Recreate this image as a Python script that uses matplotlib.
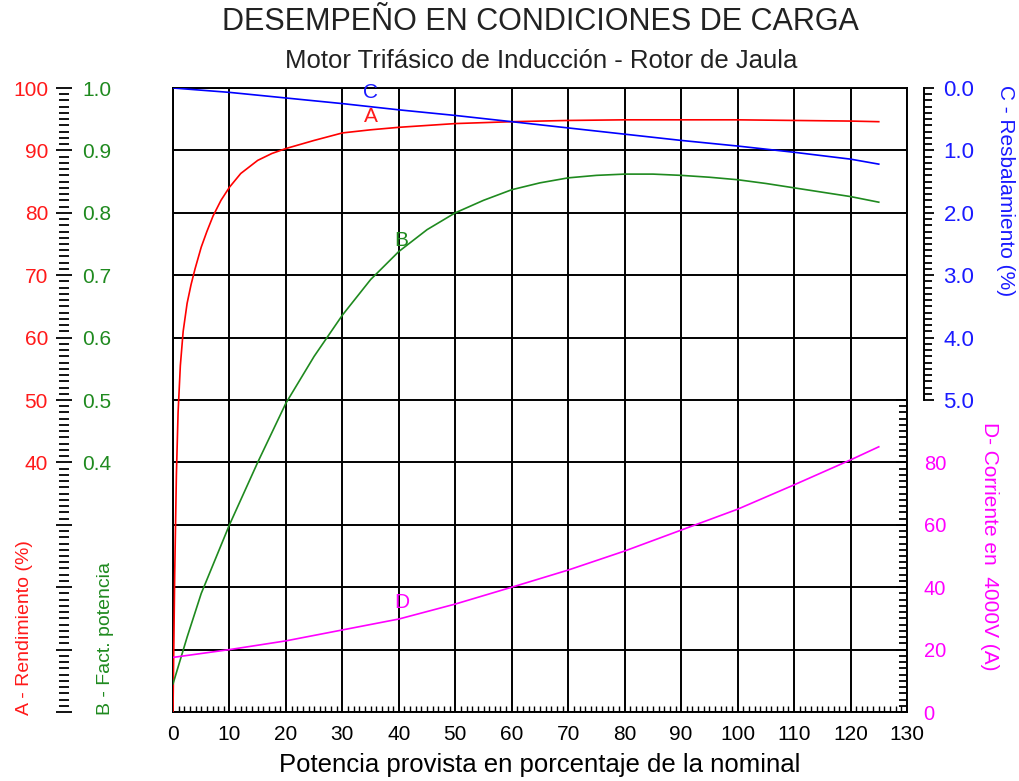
import numpy as np
import matplotlib
matplotlib.use("Agg")
import matplotlib.pyplot as plt
from matplotlib.ticker import MultipleLocator, FixedLocator, FuncFormatter

plt.rcParams['font.family'] = ['Liberation Sans', 'DejaVu Sans']

# A - rendimiento (%)
x_rend = [0, 0.3, 0.6, 0.9, 1.3, 1.8, 2.5, 3.2, 3.9, 5, 6, 7.1, 8.5, 10, 12, 15, 17.5,
          20, 25, 30, 35, 40, 50, 60, 70, 80, 90, 100, 110, 120, 125]
rend = [0, 22, 38, 48, 55.5, 61, 65.5, 68.5, 71, 74.5, 77, 79.5, 82, 84.1, 86.3, 88.4, 89.5,
        90.3, 91.6, 92.8, 93.3, 93.7, 94.3, 94.6, 94.8, 94.9, 94.9, 94.9, 94.8, 94.7, 94.6]

# B - factor de potencia
x_fp = [0, 2.5, 5, 7.5, 10, 15, 20, 25, 30, 35, 40, 45, 50, 55, 60, 65, 70, 75,
        80, 85, 90, 95, 100, 105, 110, 115, 120, 125]
fp = [0.045, 0.12, 0.19, 0.245, 0.30, 0.40, 0.495, 0.57, 0.636, 0.693, 0.738, 0.773,
      0.80, 0.82, 0.837, 0.848, 0.856, 0.86, 0.862, 0.862, 0.86, 0.857, 0.853,
      0.847, 0.84, 0.833, 0.826, 0.817]

# C - resbalamiento (%)
x_res = [0, 10, 20, 30, 40, 50, 60, 70, 80, 90, 100, 110, 120, 125]
resb = [0, 0.07, 0.16, 0.25, 0.35, 0.44, 0.54, 0.64, 0.74, 0.84, 0.93, 1.03, 1.14, 1.22]

# D - corriente en 4000V (A)
x_cor = [0, 10, 20, 30, 40, 50, 60, 70, 80, 90, 100, 110, 120, 125]
corr = [17.5, 20, 22.8, 26.3, 29.8, 34.6, 40, 45.5, 51.6, 58.3, 65, 72.8, 80.8, 85]

RED = '#ff1a1a'
GREEN = '#1f8a1f'
BLUE = '#1a1aff'
MAG = '#ff00ff'

fig = plt.figure(figsize=(10.19, 7.81), dpi=100)
ax = fig.add_axes([173 / 1019, 69 / 781, 734 / 1019, 624 / 781])

# main axes: grid + x axis
ax.set_xlim(0, 130)
ax.set_ylim(0, 100)
ax.xaxis.set_major_locator(MultipleLocator(10))
ax.xaxis.set_minor_locator(MultipleLocator(1))
ax.yaxis.set_major_locator(MultipleLocator(10))
ax.tick_params(axis='x', which='major', direction='in', length=0, labelsize=15, pad=9)
ax.tick_params(axis='x', which='minor', direction='in', length=4, width=1)
ax.tick_params(axis='y', which='both', length=0, labelleft=False)
ax.grid(True, which='major', color='black', linewidth=1.4)
for s in ax.spines.values():
    s.set_linewidth(1.4)
ax.set_xlabel('Potencia provista en porcentaje de la nominal', fontsize=18.5, labelpad=7)

# A axis (red, far left)
ax_a = ax.twinx()
ax_a.set_ylim(0, 100)
ax_a.yaxis.set_ticks_position('left')
ax_a.spines['left'].set_position(('axes', -0.1485))
for s in ax_a.spines.values():
    s.set_visible(False)
ax_a.yaxis.set_major_locator(MultipleLocator(10))
ax_a.yaxis.set_minor_locator(MultipleLocator(1))
ax_a.yaxis.set_major_formatter(FuncFormatter(lambda v, p: '%d' % v if v >= 40 else ''))
ax_a.tick_params(axis='y', which='major', direction='inout', length=12, width=1.3,
                 labelsize=15, labelcolor=RED, pad=5.5)
ax_a.tick_params(axis='y', which='minor', direction='inout', length=7, width=1.3)
ax_a.plot(x_rend, rend, color='red', linewidth=1.2)
ax_a.text(35, 95.4, 'A', color=RED, fontsize=15, ha='center', va='center')

# B axis (green, labels right of the A ticks)
ax_b = ax.twinx()
ax_b.set_ylim(0, 1)
ax_b.spines['right'].set_position(('axes', -0.1485))
for s in ax_b.spines.values():
    s.set_visible(False)
ax_b.yaxis.set_major_locator(FixedLocator([0.4, 0.5, 0.6, 0.7, 0.8, 0.9, 1.0]))
ax_b.yaxis.set_major_formatter(FuncFormatter(lambda v, p: '%.1f' % v))
ax_b.tick_params(axis='y', length=0, labelsize=15, labelcolor=GREEN, pad=13)
ax_b.plot(x_fp, fp, color=GREEN, linewidth=1.2)
ax_b.text(40.5, 0.756, 'B', color=GREEN, fontsize=15, ha='center', va='center')

# C axis (blue, right, inverted, upper half)
ax_c = ax.twinx()
ax_c.set_ylim(10, 0)
ax_c.spines['right'].set_position(('axes', 1.0232))
ax_c.spines['right'].set_bounds(0, 5)
ax_c.spines['right'].set_linewidth(1.4)
for k in ['left', 'top', 'bottom']:
    ax_c.spines[k].set_visible(False)
ax_c.yaxis.set_major_locator(FixedLocator([0, 1, 2, 3, 4, 5]))
ax_c.yaxis.set_minor_locator(FixedLocator(np.arange(0, 5.01, 0.1)))
ax_c.yaxis.set_major_formatter(FuncFormatter(lambda v, p: '%.1f' % v))
ax_c.tick_params(axis='y', which='major', direction='out', length=7, width=1.3,
                 labelsize=16, labelcolor=BLUE, pad=7)
ax_c.tick_params(axis='y', which='minor', direction='out', length=6, width=1.3)
ax_c.plot(x_res, resb, color='blue', linewidth=1.2)
ax_c.text(35, 0.07, 'C', color=BLUE, fontsize=15, ha='center', va='center')

# D axis (magenta, right spine, lower half)
ax_d = ax.twinx()
ax_d.set_ylim(0, 200)
for s in ax_d.spines.values():
    s.set_visible(False)
ax_d.yaxis.set_major_locator(FixedLocator(np.arange(0, 101, 20)))
ax_d.yaxis.set_minor_locator(FixedLocator(np.arange(0, 101, 2)))
ax_d.yaxis.set_major_formatter(FuncFormatter(lambda v, p: '%d' % v if v <= 80 else ''))
ax_d.tick_params(axis='y', which='major', direction='in', length=8, width=1.3,
                 labelsize=14.5, labelcolor=MAG, pad=12)
ax_d.tick_params(axis='y', which='minor', direction='in', length=6, width=1.3)
ax_d.plot(x_cor, corr, color=MAG, linewidth=1.2)
ax_d.text(40.5, 35, 'D', color=MAG, fontsize=15, ha='center', va='center')

# titles and axis names
fig.text(540 / 1019, 1 - 22 / 781, 'DESEMPEÑO EN CONDICIONES DE CARGA',
         fontsize=22, ha='center', va='center', color='#222222')
fig.text(541 / 1019, 1 - 61 / 781, 'Motor Trifásico de Inducción - Rotor de Jaula',
         fontsize=18.5, ha='center', va='center', color='#222222')
fig.text(25 / 1019, 1 - 715 / 781, 'A - Rendimiento (%)', rotation=90,
         fontsize=14, color=RED, ha='center', va='bottom')
fig.text(105 / 1019, 1 - 715 / 781, 'B - Fact. potencia', rotation=90,
         fontsize=14, color=GREEN, ha='center', va='bottom')
fig.text(1005 / 1019, 1 - 85 / 781, 'C - Resbalamiento (%)', rotation=-90,
         fontsize=15, color=BLUE, ha='center', va='top')
fig.text(990 / 1019, 1 - 422 / 781, 'D- Corriente en  4000V (A)', rotation=-90,
         fontsize=15, color=MAG, ha='center', va='top')

fig.savefig('out.png', dpi=100)
